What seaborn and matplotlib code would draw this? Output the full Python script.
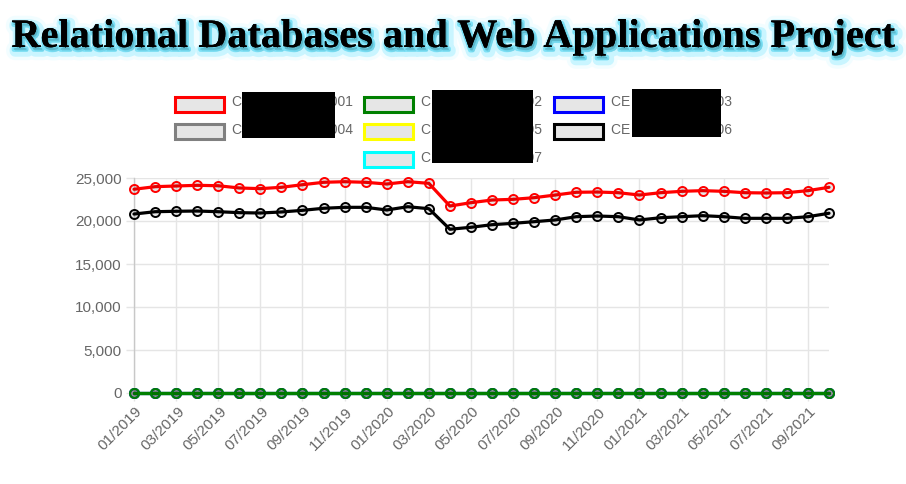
import numpy as np
import pandas as pd
import seaborn as sns
from matplotlib import pyplot as plt
from matplotlib.patches import Rectangle
from matplotlib.ticker import FuncFormatter, MultipleLocator
import matplotlib.patheffects as pe
import matplotlib.transforms as mtransforms

# monthly labels 01/2019 .. 10/2021
months = pd.date_range("2019-01-01", periods=34, freq="MS").strftime("%m/%Y").tolist()

series_names = ["CE Warehouse 001", "CE Warehouse 002", "CE Warehouse 003",
                "CE Warehouse 004", "CE Warehouse 005", "CE Warehouse 006",
                "CE Warehouse 007"]
series_colors = ["red", "green", "blue", "gray", "yellow", "black", "cyan"]

vals_01 = [23690, 23990, 24070, 24150, 24100, 23840, 23760, 23920, 24220, 24500,
           24570, 24500, 24300, 24570, 24380, 21740, 22130, 22440, 22520, 22710,
           23020, 23340, 23370, 23290, 23020, 23290, 23450, 23530, 23450, 23290,
           23260, 23290, 23530, 23920]
vals_06 = [20810, 21080, 21130, 21160, 21080, 20970, 20930, 21050, 21240, 21480,
           21590, 21590, 21280, 21660, 21430, 19040, 19270, 19570, 19730, 19920,
           20120, 20500, 20580, 20500, 20120, 20380, 20500, 20620, 20500, 20310,
           20310, 20310, 20500, 20900]
vals_02 = [0] * 34
vals_03 = [0] * 34
vals_04 = [0] * 34
vals_05 = [0] * 34
vals_07 = [0] * 34

all_vals = [vals_01, vals_02, vals_03, vals_04, vals_05, vals_06, vals_07]

rows = []
for name, v in zip(series_names, all_vals):
    for i, y in enumerate(v):
        rows.append({"series": name, "idx": i, "month": months[i], "value": y})
df = pd.DataFrame(rows)

sns.set_theme(style="white")
plt.rcParams['font.family'] = ['Liberation Sans', 'DejaVu Sans']

W, H = 906, 484
fig = plt.figure(figsize=(W / 100, H / 100), dpi=100)
ax = fig.add_axes([134 / W, (H - 393) / H, (829 - 134) / W, (393 - 178) / H])

# dataset 0 on top, like chart.js
for k in reversed(range(len(series_names))):
    sub = df[df["series"] == series_names[k]]
    sns.lineplot(data=sub, x="idx", y="value", ax=ax, color=series_colors[k],
                 lw=2.3, marker="o", ms=6.5, mec=series_colors[k], mew=1.4,
                 mfc=(0, 0, 0, 0.1), zorder=10 - k, clip_on=False,
                 legend=False)

ax.set_xlim(0, 33)
ax.set_ylim(0, 25000)
ax.yaxis.set_major_locator(MultipleLocator(5000))
ax.yaxis.set_major_formatter(FuncFormatter(lambda v, p: f"{int(v):,}"))
ax.set_xticks(range(0, 34, 2))
ax.set_xticklabels(months[::2], rotation=45, ha="right", va="top")
ax.set_xlabel("")
ax.set_ylabel("")

grid_c = "#e5e5e5"
ax.grid(True, color=grid_c, lw=1)
for s in ["top", "right", "bottom"]:
    ax.spines[s].set_visible(False)
ax.spines["left"].set_color("#c8c8c8")
ax.spines["left"].set_linewidth(1)
ax.tick_params(axis="both", length=6, width=1, color=grid_c, labelcolor="#666666",
               labelsize=11, pad=3, left=True, bottom=True)

shift = mtransforms.ScaledTranslation(11 / 100, 1 / 100, fig.dpi_scale_trans)
for lab in ax.get_xticklabels():
    lab.set_transform(lab.get_transform() + shift)

# title with glow
fig.text(0.5, 1 - 47 / H, "Relational Databases and Web Applications Project",
         ha="center", va="baseline", fontsize=29, fontweight="bold",
         family=["Liberation Serif", "DejaVu Serif"], color="black",
         path_effects=[
             pe.withStroke(linewidth=13, foreground="#eafcff", alpha=0.6, offset=(2, -3)),
             pe.withStroke(linewidth=8, foreground="#b8f2ff", alpha=0.7, offset=(2, -3)),
             pe.withStroke(linewidth=3, foreground="#6adcf4", alpha=0.8, offset=(1, -2)),
             pe.Normal()])

# legend drawn in pixel space, chart.js style
ov = fig.add_axes([0, 0, 1, 1], zorder=20)
ov.set_xlim(0, W)
ov.set_ylim(H, 0)
ov.axis("off")
col_x = [173, 362, 552]
row_y = [104, 131.5, 159]
slots = [(0, 0), (0, 1), (0, 2), (1, 0), (1, 1), (1, 2), (2, 1)]
for k, (r, c) in enumerate(slots):
    x0, yc = col_x[c], row_y[r]
    ov.add_patch(Rectangle((x0 + 1.5, yc - 7.5), 49, 15, facecolor="#e6e6e6",
                           edgecolor=series_colors[k], lw=2.2))
    ov.text(x0 + 59, yc - 1.5, series_names[k], ha="left", va="center",
            fontsize=10, color="#666666")

# redaction blocks as in the source image
for (x0, y0, x1, y1) in [(242, 92, 335, 138), (432, 90, 533, 163), (632, 89, 721, 137)]:
    ov.add_patch(Rectangle((x0, y0), x1 - x0, y1 - y0, facecolor="black",
                           edgecolor="none", zorder=5))

fig.savefig("out.png", dpi=100)
